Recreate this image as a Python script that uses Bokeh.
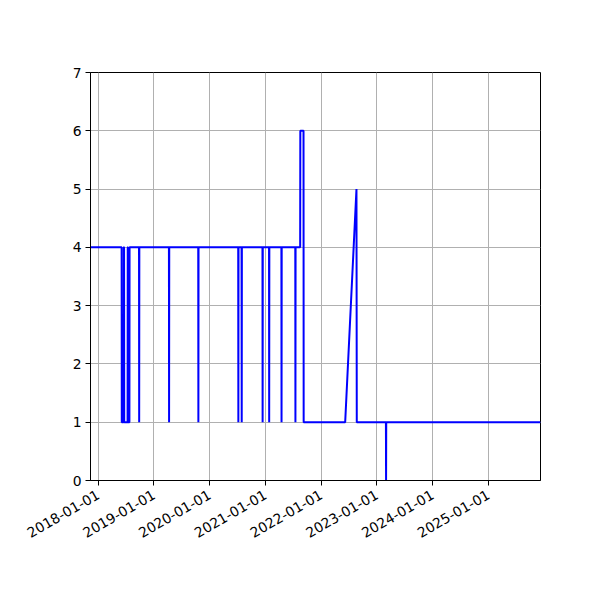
import math
import pandas as pd
from bokeh.plotting import figure
from bokeh.models import Range1d, FixedTicker
from bokeh.embed import file_html
from bokeh.resources import INLINE

# data: time series points (date, value)
dates = [
    "2017-11-11", "2018-06-03", "2018-06-04", "2018-06-16", "2018-06-17",
    "2018-06-19", "2018-06-20", "2018-07-12", "2018-07-13", "2018-07-14",
    "2018-07-15", "2018-07-24", "2018-07-25",
    "2018-09-25", "2018-09-26", "2018-09-27",
    "2019-04-09", "2019-04-10", "2019-04-11",
    "2019-10-18", "2019-10-19", "2019-10-20",
    "2020-07-06", "2020-07-07", "2020-07-08",
    "2020-07-28", "2020-07-29", "2020-07-30",
    "2020-12-12", "2020-12-13", "2020-12-14",
    "2021-01-24", "2021-01-25", "2021-01-26",
    "2021-04-15", "2021-04-16", "2021-04-17",
    "2021-07-15", "2021-07-16", "2021-07-17",
    "2021-08-16", "2021-08-17", "2021-09-07", "2021-09-08",
    "2022-06-07", "2022-08-20", "2022-08-22",
    "2023-03-01", "2023-03-02", "2023-03-03",
    "2025-12-08",
]
values = [
    4, 4, 1, 1, 4,
    4, 1, 1, 4, 4,
    1, 1, 4,
    4, 1, 4,
    4, 1, 4,
    4, 1, 4,
    4, 1, 4,
    4, 1, 4,
    4, 1, 4,
    4, 1, 4,
    4, 1, 4,
    4, 1, 4,
    4, 6, 6, 1,
    1, 5, 1,
    1, 0, 1,
    1,
]
tick_labels = ["2018-01-01", "2019-01-01", "2020-01-01", "2021-01-01",
               "2022-01-01", "2023-01-01", "2024-01-01", "2025-01-01"]
y_ticks = [0, 1, 2, 3, 4, 5, 6, 7]
x_start, x_end = "2017-11-11", "2025-12-08"


def ms(s):
    return pd.Timestamp(s).value / 1e6


xs = pd.to_datetime(dates)

p = figure(width=592, height=592, x_axis_type="datetime",
           output_backend="svg", toolbar_location=None,
           x_range=Range1d(ms(x_start), ms(x_end)), y_range=Range1d(0, 7),
           min_border_left=90, min_border_top=72,
           min_border_right=52, min_border_bottom=112)

p.line(xs, values, line_color="#0000ff", line_width=2)

tick_ms = [ms(t) for t in tick_labels]
p.xaxis.ticker = FixedTicker(ticks=tick_ms)
p.xaxis.major_label_overrides = {t: l for t, l in zip(tick_ms, tick_labels)}
p.xaxis.major_label_orientation = math.pi / 6
p.yaxis.ticker = FixedTicker(ticks=y_ticks)

for ax in (p.xaxis, p.yaxis):
    ax.major_label_text_font = "DejaVu Sans"
    ax.major_label_text_font_size = "13.9px"
    ax.major_label_text_color = "black"
    ax.axis_line_color = "black"
    ax.axis_line_width = 1
    ax.major_tick_line_color = "black"
    ax.major_tick_out = 5
    ax.major_tick_in = 0
    ax.minor_tick_line_color = None
    ax.major_label_standoff = 4

p.xaxis.major_label_standoff = 8

for g in (p.xgrid, p.ygrid):
    g.grid_line_color = "#b0b0b0"
    g.grid_line_width = 1

p.outline_line_color = "black"
p.outline_line_width = 1
p.background_fill_color = "white"
p.border_fill_color = "white"

open("out.html", "w").write(file_html(p, INLINE))
